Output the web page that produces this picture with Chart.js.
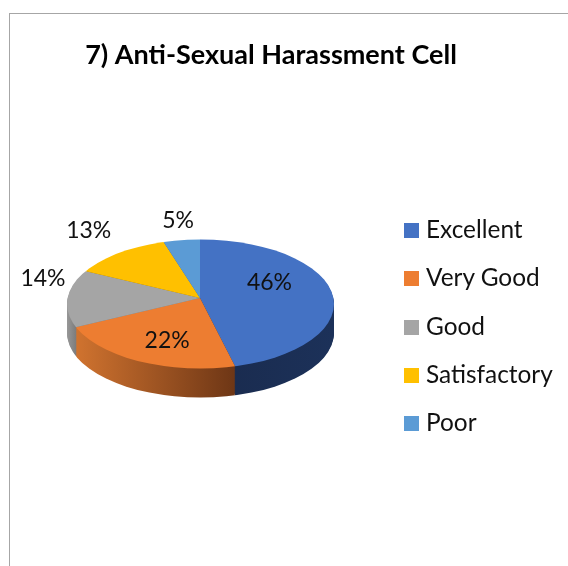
<!DOCTYPE html>
<html>
<head>
<meta charset="utf-8">
<title>Anti-Sexual Harassment Cell</title>
<script src="https://cdn.jsdelivr.net/npm/chart.js@4"></script>
<style>
html, body { margin: 0; padding: 0; background: #fff; overflow: hidden; }
#wrap { position: relative; width: 568px; height: 566px; }
#frame { position: absolute; left: 9px; top: 13px; right: 0; bottom: 0; border-left: 1.5px solid #a6a6a6; border-top: 1.5px solid #a6a6a6; }
#legend { position: absolute; left: 404px; top: 205px; margin: 0; padding: 0; list-style: none; font: 24.4px Lato, sans-serif; color: #111; }
#legend li { height: 48.3px; line-height: 48.3px; white-space: nowrap; }
#legend i { display: inline-block; width: 15px; height: 15px; margin-right: 7px; }
canvas { position: absolute; left: 0; top: 0; }
</style>
</head>
<body>
<div id="wrap">
	<div id="frame"></div>
	<canvas id="pie" width="568" height="566"></canvas>
	<ul id="legend"></ul>
</div>
<script>
var categories = ["Excellent", "Very Good", "Good", "Satisfactory", "Poor"];
var values = [46, 22, 14, 13, 5];
var colors = ["#4472C4", "#ED7D31", "#A5A5A5", "#FFC000", "#5B9BD5"];
// side wall shading per slice, left to right
var sideColors = [
	["#1A2C50", "#1C3159"],
	["#D0732F", "#6F3716"],
	["#999999", "#7C7C7C"],
	["#9A7400", "#9A7400"],
	["#37608A", "#37608A"]
];
// label shift from the slice's rim point
var labelNudge = [[-63, -7], [24, -18], [-23.5, -19], [-23, -17], [-1, -11]];

// tilted view: pie is squashed, pivot sits above the middle of the rim ellipse
var view = { pivotX: 200, pivotY: 298, tilt: 0.5, cx: 200.5, cy: 304, rx: 133.5, ry: 64.5, depth: 29 };

function drawFace(ctx, chart, arcs, shift, side) {
	ctx.save();
	ctx.beginPath();
	ctx.ellipse(view.cx, view.cy + shift, view.rx, view.ry, 0, 0, Math.PI * 2);
	ctx.clip();
	ctx.translate(view.pivotX, view.pivotY + shift);
	ctx.scale(1, view.tilt);
	ctx.translate(-arcs[0].x, -arcs[0].y);
	arcs.forEach(function(arc, i) {
		var old = arc.options;
		if (side) {
			var x0 = arc.x - view.rx, x1 = arc.x + view.rx;
			// the visible wall only spans part of the width for some slices
			if (i === 0) { x0 = arc.x + 33; }
			if (i === 1) { x0 = arc.x - 124; x1 = arc.x + 33; }
			if (i === 2) { x1 = arc.x - 124; }
			var grad = ctx.createLinearGradient(x0, 0, x1, 0);
			grad.addColorStop(0, sideColors[i][0]);
			grad.addColorStop(1, sideColors[i][1]);
			arc.options = Object.assign({}, old, { backgroundColor: grad, borderWidth: 0 });
		}
		arc.draw(ctx);
		arc.options = old;
	});
	ctx.restore();
}

var tiltedPie = {
	id: "tiltedPie",
	beforeDatasetsDraw: function(chart) {
		var ctx = chart.ctx;
		var arcs = chart.getDatasetMeta(0).data;
		for (var d = view.depth; d >= 1; d--) {
			drawFace(ctx, chart, arcs, d, true);
		}
		drawFace(ctx, chart, arcs, 0, false);

		ctx.save();
		ctx.font = "23px Lato, sans-serif";
		ctx.fillStyle = "#111";
		ctx.textAlign = "center";
		ctx.textBaseline = "middle";
		arcs.forEach(function(arc, i) {
			var mid = (arc.startAngle + arc.endAngle) / 2;
			var x = view.pivotX + view.rx * Math.cos(mid) + labelNudge[i][0];
			var y = view.pivotY + view.rx * view.tilt * Math.sin(mid) + labelNudge[i][1];
			ctx.fillText(values[i] + "%", x, y);
		});
		ctx.restore();
		return false;
	}
};

new Chart(document.getElementById("pie"), {
	type: "pie",
	data: {
		labels: categories,
		datasets: [{ data: values, backgroundColor: colors, borderWidth: 0, radius: 160 }]
	},
	options: {
		responsive: false,
		animation: false,
		layout: { padding: { right: 26 } },
		plugins: {
			legend: { display: false },
			tooltip: { enabled: false },
			title: {
				display: true,
				text: "7) Anti-Sexual Harassment Cell",
				color: "#000",
				font: { family: "Lato, sans-serif", size: 27, weight: "bold" },
				padding: { top: 39, bottom: 10 }
			}
		}
	},
	plugins: [tiltedPie]
});

// legend as a plain list so the gap to the swatch can follow the reference
var list = document.getElementById("legend");
categories.forEach(function(name, i) {
	var li = document.createElement("li");
	var box = document.createElement("i");
	box.style.background = colors[i];
	li.appendChild(box);
	li.appendChild(document.createTextNode(name));
	list.appendChild(li);
});
</script>
</body>
</html>
